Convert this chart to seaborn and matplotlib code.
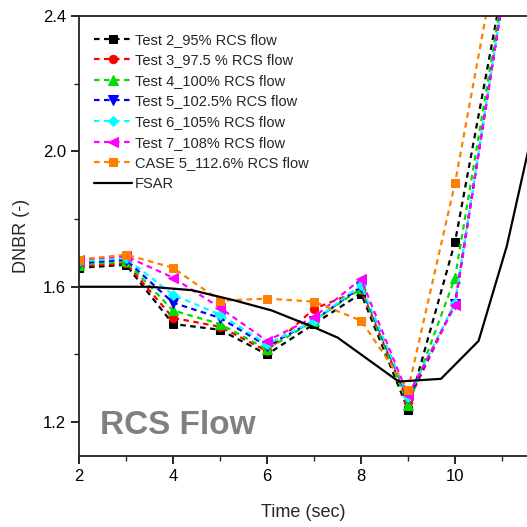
import matplotlib
matplotlib.use("Agg")
import matplotlib.pyplot as plt
import seaborn as sns
import pandas as pd
from matplotlib.ticker import MultipleLocator

time = [2, 3, 4, 5, 6, 7, 8, 9, 10, 11]
test2 = [1.656, 1.665, 1.490, 1.473, 1.400, 1.490, 1.580, 1.237, 1.733, 2.48]
test3 = [1.660, 1.670, 1.508, 1.482, 1.410, 1.535, 1.590, 1.260, 1.550, 2.44]
test4 = [1.665, 1.675, 1.530, 1.490, 1.415, 1.500, 1.595, 1.250, 1.627, 2.46]
test5 = [1.670, 1.680, 1.553, 1.508, 1.425, 1.500, 1.600, 1.270, 1.550, 2.44]
test6 = [1.675, 1.685, 1.576, 1.518, 1.430, 1.500, 1.605, 1.275, 1.553, 2.44]
test7 = [1.680, 1.690, 1.627, 1.538, 1.440, 1.510, 1.623, 1.280, 1.545, 2.44]
case5 = [1.680, 1.695, 1.656, 1.559, 1.565, 1.556, 1.500, 1.296, 1.907, 2.66]

fsar_time = [2, 3.5, 4.4, 5.3, 6.1, 7.0, 7.5, 8.1, 8.8, 9.7, 10.5, 11.1, 11.6]
fsar = [1.600, 1.600, 1.590, 1.560, 1.530, 1.480, 1.450, 1.390, 1.320, 1.328, 1.440, 1.720, 2.030]

labels = ["Test 2_95% RCS flow", "Test 3_97.5 % RCS flow", "Test 4_100% RCS flow",
          "Test 5_102.5% RCS flow", "Test 6_105% RCS flow", "Test 7_108% RCS flow",
          "CASE 5_112.6% RCS flow"]
series = [test2, test3, test4, test5, test6, test7, case5]
colors = ["#000000", "#ff0000", "#00dd00", "#0000ff", "#00ffff", "#ff00ff", "#ff8000"]
markers = ["s", "o", "^", "v", "D", "<", "s"]
msizes = [5.5, 6, 6.5, 6.5, 5, 6.5, 5.5]

sns.set_style("ticks")
plt.rcParams["font.family"] = ["Liberation Sans", "DejaVu Sans"]

fig = plt.figure(figsize=(5.27, 5.27), dpi=100)
ax = fig.add_axes([79/527, 71/527, 1 - 79/527, (456-16)/527])

for lab, vals, c, m, ms in zip(labels, series, colors, markers, msizes):
    df = pd.DataFrame({"t": time, "v": vals})
    sns.lineplot(data=df, x="t", y="v", ax=ax, color=c, marker=m, markersize=ms,
                 markeredgecolor=c, linestyle=(0, (2.5, 2)), linewidth=1.6,
                 label=lab, clip_on=True)

df_f = pd.DataFrame({"t": fsar_time, "v": fsar})
sns.lineplot(data=df_f, x="t", y="v", ax=ax, color="black", linewidth=1.6,
             label="FSAR")

ax.set_xlim(2, 11.53)
ax.set_ylim(1.1, 2.4)
ax.xaxis.set_minor_locator(MultipleLocator(1))
ax.yaxis.set_minor_locator(MultipleLocator(0.2))
ax.set_xticks([2, 4, 6, 8, 10])
ax.set_yticks([1.2, 1.6, 2.0, 2.4])
ax.set_yticklabels(["1.2", "1.6", "2.0", "2.4"])
ax.tick_params(which="major", direction="out", length=6, width=1.2, labelsize=12, colors="black")
ax.tick_params(which="minor", direction="out", length=3.5, width=1.0)
for s in ["left", "bottom", "top"]:
    ax.spines[s].set_linewidth(1.3)
    ax.spines[s].set_color("#222222")
ax.spines["right"].set_visible(False)

ax.set_xlabel("Time (sec)", fontsize=13, labelpad=14)
ax.set_ylabel("DNBR (-)", fontsize=13, labelpad=9)

ax.text(2.45, 1.165, "RCS Flow", fontsize=24, fontweight="bold", color="#808080")

leg = ax.legend(loc="upper left", bbox_to_anchor=(0.01, 0.985), frameon=False,
                fontsize=10.5, handlelength=2.6, handletextpad=0.2,
                labelspacing=0.45, borderaxespad=0.3)

fig.savefig("out.png", dpi=100)
